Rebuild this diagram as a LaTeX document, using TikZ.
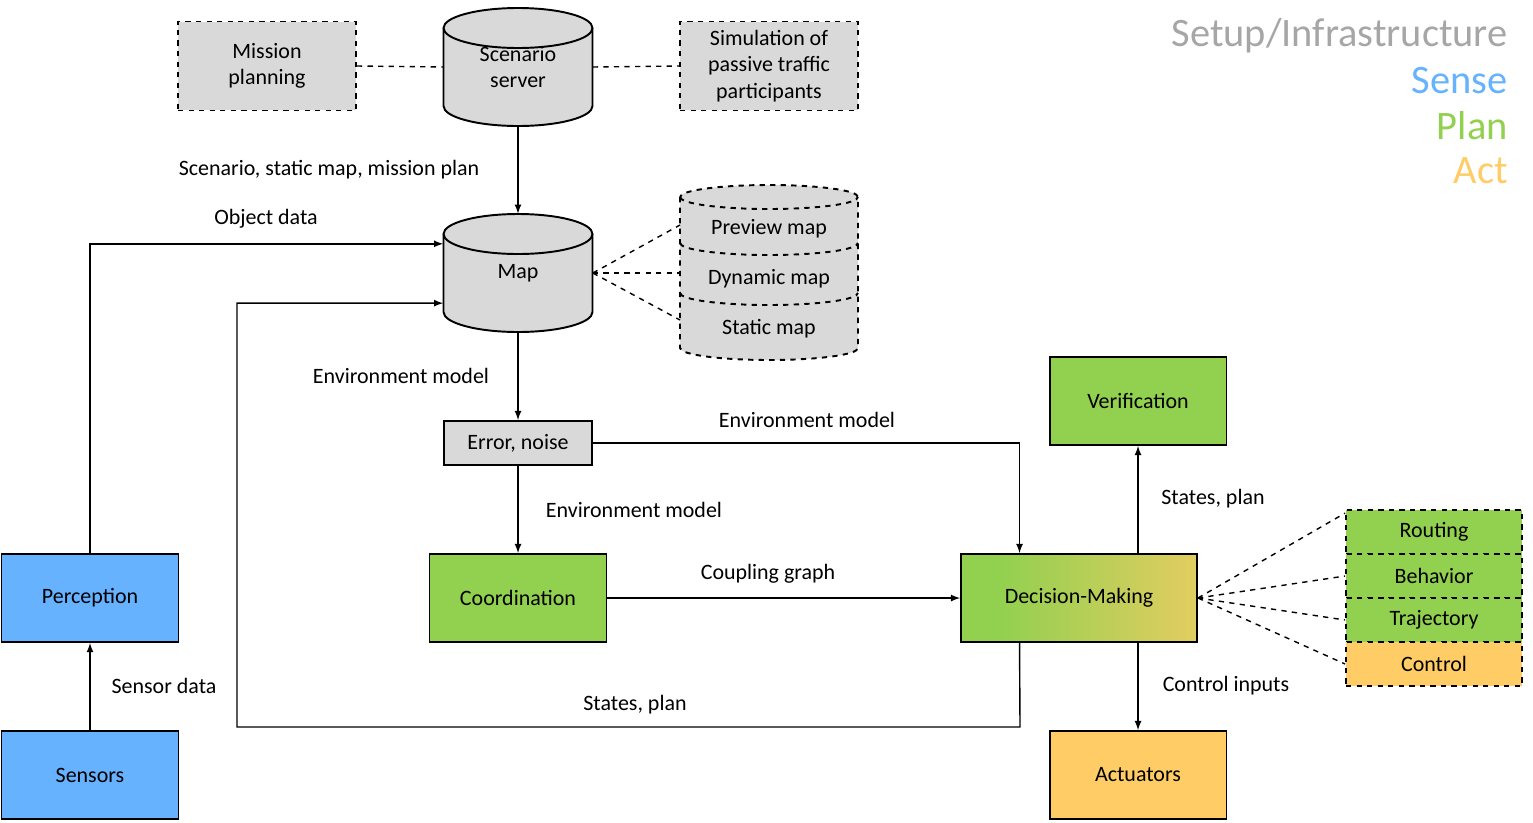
\documentclass[tikz,border=0pt]{standalone}
\usepackage{fontspec}
\setmainfont{Carlito}
\usetikzlibrary{calc,arrows}
\definecolor{sensec}{RGB}{102,178,255}
\definecolor{planc}{RGB}{146,208,80}
\definecolor{actc}{RGB}{255,204,102}
\definecolor{setupc}{RGB}{166,166,166}
\definecolor{boxgray}{RGB}{217,217,217}
\pgfdeclarehorizontalshading{dmshade}{100bp}{color(0bp)=(planc); color(33bp)=(planc); color(90bp)=(actc); color(100bp)=(actc)}
% cylinder: centre x, centre y, half width, half height, style (pixel units)
\newcommand{\drum}[5]{%
  \draw[#5] (#1-#3,#2-#4+20) -- (#1-#3,#2+#4-20)
    arc[start angle=180,end angle=360,x radius={#3*0.02cm},y radius=0.4cm]
    -- (#1+#3,#2-#4+20)
    arc[start angle=0,end angle=180,x radius={#3*0.02cm},y radius=0.4cm] -- cycle;
  \draw[#5,fill=none] (#1-#3,#2-#4+20)
    arc[start angle=180,end angle=360,x radius={#3*0.02cm},y radius=0.4cm];}
\tikzset{
  box/.style={draw,line width=1.1pt,minimum width=3.54cm,minimum height=1.76cm,align=center},
  sidebox/.style={draw,dashed,line width=1.1pt,fill=boxgray,minimum width=3.56cm,minimum height=1.78cm,align=center},
  subbox/.style={draw,dashed,line width=1.1pt,minimum width=3.52cm,minimum height=0.88cm},
  arr/.style={-latex,line width=0.8pt},
  link/.style={dashed,line width=0.8pt},
  lbl/.style={inner sep=0pt},
  legend/.style={anchor=east,inner sep=0pt,font=\fontsize{23}{26}\selectfont}
}
\begin{document}
\begin{tikzpicture}[x=0.02cm,y=-0.02cm,font=\fontsize{12.5}{15}\selectfont]
\useasboundingbox (0,0) rectangle (1533,822);
% cylinders
\drum{518}{67}{74.5}{59}{line width=1.1pt,fill=boxgray}
\drum{518}{273}{74.5}{59}{line width=1.1pt,fill=boxgray}
\draw[dashed,line width=1.1pt,fill=boxgray] (680,197) -- (680,348)
  arc[start angle=180,end angle=360,x radius=1.78cm,y radius=0.24cm] -- (858,197)
  arc[start angle=0,end angle=180,x radius=1.78cm,y radius=0.24cm] -- cycle;
\foreach \yy in {197,243,293}
  \draw[dashed,line width=1.1pt] (680,\yy) arc[start angle=180,end angle=360,x radius=1.78cm,y radius=0.24cm];
\node[minimum width=2.98cm,minimum height=2.36cm,align=center] (scen) at (518,67) {Scenario\\server};
\node[minimum width=2.98cm,minimum height=2.36cm] (map) at (518,273) {Map};
\node[lbl] (prev) at (769,229) {Preview map};
\node[lbl] (dyn) at (769,279) {Dynamic map};
\node[lbl] (stat) at (769,329) {Static map};
\coordinate (previn) at (680,225);
\coordinate (dynin) at (680,273);
\coordinate (statin) at (680,320);
% boxes
\node[sidebox] (mission) at (267,66) {Mission\\planning};
\node[sidebox] (sim) at (769,66) {Simulation of\\passive traffic\\participants};
\node[draw,line width=1.1pt,fill=boxgray,minimum width=2.96cm,minimum height=0.88cm] (err) at (518,443) {Error, noise};
\node[box,fill=planc] (coord) at (518,598) {Coordination};
\node[box,shading=dmshade,minimum width=4.72cm] (dm) at (1079,598) {Decision-Making};
\node[box,fill=planc] (ver) at (1138,401) {Verification};
\node[box,fill=actc] (act) at (1138,775) {Actuators};
\node[box,fill=sensec] (perc) at (90,598) {Perception};
\node[box,fill=sensec] (sens) at (90,775) {Sensors};
\node[subbox,fill=planc] (routing) at (1434,532) {Routing};
\node[subbox,fill=planc] (behav) at (1434,576) {Behavior};
\node[subbox,fill=planc] (traj) at (1434,620) {Trajectory};
\node[subbox,fill=actc] (ctrl) at (1434,664) {Control};
% legend
\node[legend,text=setupc] (lgsetup) at (1508,36) {Setup/Infrastructure};
\node[legend,text=sensec] (lgsense) at (1508,81) {Sense};
\node[legend,text=planc] (lgplan) at (1508,126) {Plan};
\node[legend,text=actc] (lgact) at (1508,171) {Act};
% connectors
\draw[link] (mission.east) -- (scen.west);
\draw[link] (scen.east) -- (sim.west);
\draw[link] (map.east) -- (previn);
\draw[link] (map.east) -- (dynin);
\draw[link] (map.east) -- (statin);
\draw[link] (dm.east) -- (routing.168);
\draw[link] (dm.east) -- (behav.west);
\draw[link] (dm.east) -- (traj.west);
\draw[link] (dm.east) -- (ctrl.west);
\draw[arr] (scen.south) -- (map.north);
\draw[arr] (perc.north) |- ($(map.north west)!0.254!(map.south west)$);
\draw[arr] ($(dm.south west)!0.25!(dm.south east)$) -- (1020,727) -- (237,727)
  |- ($(map.north west)!0.754!(map.south west)$);
\draw[arr] (map.south) -- (err.north);
\draw[arr] (err.south) -- (coord.north);
\draw[arr] (err.east) -| ($(dm.north west)!0.25!(dm.north east)$);
\draw[arr] (coord.east) -- (dm.west);
\draw[arr] (ver.south |- dm.north) -- (ver.south);
\draw[arr] (act.north |- dm.south) -- (act.north);
\draw[arr] (sens.north) -- (perc.south);
% labels
\node[lbl] (lscen) at (329,170) {Scenario, static map, mission plan};
\node[lbl] (lobj) at (266,219) {Object data};
\node[lbl] (lenv1) at (401,376) {Environment model};
\node[lbl] (lenv2) at (634,510) {Environment model};
\node[lbl] (lenv3) at (807,420) {Environment model};
\node[lbl] (lcoup) at (768,574) {Coupling graph};
\node[lbl] (lstate1) at (1213,499) {States, plan};
\node[lbl] (lstate2) at (635,705) {States, plan};
\node[lbl] (lctrl) at (1226,686) {Control inputs};
\node[lbl] (lsens) at (164,686) {Sensor data};
\end{tikzpicture}
\end{document}
